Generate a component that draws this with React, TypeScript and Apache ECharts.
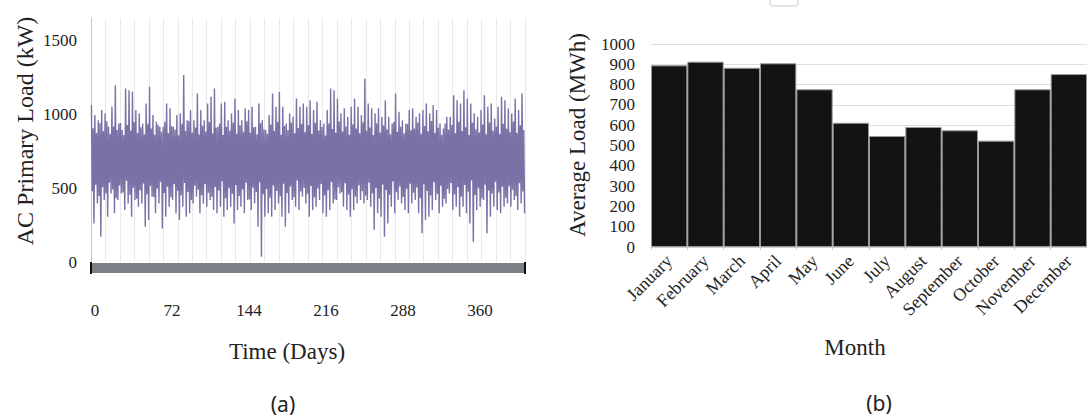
import React, { useEffect, useRef } from "react";
import * as echarts from "echarts";

// ---- Panel (a): AC primary load (kW) ----
// outer spike tips
const loadPeaks = [
  1061, 994, 959, 1027, 1005, 914, 1050, 1196, 937, 892, 1173, 1162, 1151, 1027, 1005, 937,
  1072, 1185, 994, 948, 914, 914, 1072, 1039, 914, 994, 1005, 1264, 959, 1027, 959, 1140,
  1027, 959, 1072, 1117, 1173, 914, 1072, 1083, 959, 1005, 1106, 1027, 959, 1039, 1027, 1050,
  914, 1072, 959, 892, 994, 1140, 1050, 1151, 1050, 937, 1005, 982, 1106, 1050, 1072,
  1050, 1094, 1027, 1083, 959, 937, 1027, 1173, 1162, 1106, 1005, 1039, 982, 1050, 1106, 1050,
  994, 1241, 1072, 1039, 1005, 1039, 982, 1094, 982, 937, 1140, 1016, 959, 937, 1027,
  1039, 982, 1005, 1027, 1072, 1005, 1061, 1027, 937, 903, 982, 982, 1128, 1094, 1072, 1162,
  1106, 1072, 1005, 982, 1027, 1128, 1050, 1072, 971, 1050, 1117, 1094, 1039, 1005, 1106, 1027, 1140,
];
const loadTroughs = [
  261, 396, 171, 419, 306, 464, 329, 419, 464, 351, 396, 306, 419, 374, 396, 239,
  284, 441, 329, 396, 227, 306, 374, 419, 329, 284, 374, 306, 329, 396, 441, 329,
  396, 374, 419, 351, 329, 374, 306, 351, 374, 261, 351, 374, 329, 419, 351, 396,
  239, 36, 306, 329, 306, 351, 396, 306, 239, 329, 419, 374, 351, 441, 396,
  306, 351, 374, 419, 329, 306, 351, 396, 419, 464, 374, 351, 306, 351, 396, 419,
  396, 419, 374, 216, 329, 306, 171, 261, 374, 329, 419, 396, 351, 329, 396,
  419, 329, 194, 284, 306, 351, 419, 329, 374, 396, 464, 351, 374, 306, 374, 329,
  261, 137, 351, 374, 419, 194, 306, 374, 351, 329, 374, 396, 374, 419, 351, 396, 329,
];
// inner (denser) strokes of the band
const loadInnerHigh = [
  905, 872, 938, 884, 951, 866, 917, 893, 940, 858, 926, 889, 947, 873, 912, 864,
  935, 902, 861, 928, 881, 949, 870, 918, 895, 857, 931, 886, 954, 876, 909, 862,
  921, 883, 946, 869, 908, 937, 859, 915, 890, 943, 867, 925, 880, 952, 874, 911,
  863, 939, 897, 868, 930, 885, 948, 860, 919, 892, 944, 871, 906, 934, 878,
  927, 865, 941, 889, 913, 856, 936, 899, 874, 950, 882, 916, 861, 932, 903, 870,
  945, 887, 910, 858, 939, 876, 923, 896, 864, 947, 881, 914, 869, 933, 891,
  902, 943, 867, 920, 884, 953, 873, 908, 861, 937, 895, 926, 870, 948, 886, 912,
  859, 941, 898, 875, 929, 863, 944, 888, 917, 866, 935, 901, 879, 950, 872, 924, 893,
];
const loadInnerLow = [
  478, 522, 446, 506, 463, 538, 491, 432, 517, 470, 549, 455, 502, 428, 486, 531,
  459, 512, 440, 497, 543, 466, 509, 437, 525, 482, 451, 534, 474, 420, 515, 488,
  452, 527, 469, 441, 508, 484, 546, 431, 499, 462, 521, 447, 490, 536, 425, 503,
  473, 540, 458, 494, 434, 518, 480, 445, 529, 467, 511, 438, 552, 476, 500,
  461, 514, 436, 497, 528, 450, 485, 541, 423, 506, 471, 533, 457, 492, 443, 519,
  479, 448, 537, 465, 501, 429, 524, 487, 454, 545, 472, 510, 439, 496, 530,
  468, 504, 433, 526, 481, 449, 539, 460, 516, 427, 493, 535, 456, 507, 442, 520,
  475, 551, 453, 498, 430, 523, 483, 463, 542, 470, 509, 435, 513, 489, 447, 532, 477,
];
const dayTickLabels = [0, 72, 144, 216, 288, 360];
const loadTickLabels = [0, 500, 1000, 1500];

// ---- Panel (b): monthly average load (MWh) ----
const months = [
  "January", "February", "March", "April", "May", "June",
  "July", "August", "September", "October", "November", "December",
];
const avgLoad = [895, 913, 883, 905, 777, 612, 547, 591, 575, 524, 777, 852];

const SERIF = "'Liberation Serif', 'Times New Roman', serif";
const SANS = "'Noto Sans', 'Open Sans', sans-serif";

export default function App() {
  const ref = useRef<HTMLDivElement>(null);
  useEffect(() => {
    if (!ref.current) return;
    const chart = echarts.init(ref.current, undefined, { renderer: "svg" });
    const N = loadPeaks.length;
    const step = 365 / N;
    const lineData: number[][] = [];
    for (let i = 0; i < N; i++) {
      lineData.push([(i + 0.125) * step, loadPeaks[i]]);
      lineData.push([(i + 0.375) * step, loadInnerLow[i]]);
      lineData.push([(i + 0.625) * step, loadInnerHigh[i]]);
      lineData.push([(i + 0.875) * step, loadTroughs[i]]);
    }
    const plain = (v: number) => String(v);
    chart.setOption({
      animation: false,
      backgroundColor: "#ffffff",
      grid: [
        { left: 91, top: 18, width: 434, bottom: 158, containLabel: false },
        { left: 651, top: 44, width: 439, bottom: 173, containLabel: false },
      ],
      xAxis: [
        {
          type: "value",
          gridIndex: 0,
          position: "bottom",
          min: 0,
          max: 365,
          interval: 365 / 30,
          axisLine: { show: false },
          axisTick: { show: false },
          axisLabel: { show: false },
          splitLine: { show: true, lineStyle: { color: "#e9e9e9", width: 1 } },
        },
        {
          type: "value",
          gridIndex: 0,
          position: "bottom",
          min: -3.74,
          max: 402.1,
          axisLine: { show: false },
          axisTick: { show: false },
          splitLine: { show: false },
          axisLabel: {
            show: true,
            customValues: dayTickLabels,
            formatter: plain,
            margin: 40,
            fontFamily: SERIF,
            fontSize: 17,
            color: "#222",
          },
        },
        {
          type: "category",
          gridIndex: 1,
          data: months,
          axisLine: { show: true, lineStyle: { color: "#cfcfcf" } },
          axisTick: { show: true, length: 3, lineStyle: { color: "#cfcfcf" } },
          axisLabel: {
            rotate: 45,
            margin: 11,
            interval: 0,
            fontFamily: SERIF,
            fontSize: 18,
            color: "#222",
          },
          splitLine: { show: false },
        },
      ],
      yAxis: [
        {
          type: "value",
          gridIndex: 0,
          min: 0,
          max: 1650,
          axisLine: { show: true, lineStyle: { color: "#d2c2bd", width: 1 } },
          axisTick: { show: false },
          splitLine: { show: false },
          axisLabel: {
            customValues: loadTickLabels,
            formatter: plain,
            margin: 14,
            fontFamily: SERIF,
            fontSize: 17,
            color: "#222",
          },
        },
        {
          type: "value",
          gridIndex: 1,
          min: 0,
          max: 1000,
          interval: 100,
          axisLine: { show: false },
          axisTick: { show: false },
          splitLine: { show: true, lineStyle: { color: "#e2dcdc", width: 1 } },
          axisLabel: {
            formatter: plain,
            margin: 16,
            fontFamily: SERIF,
            fontSize: 17,
            color: "#222",
          },
        },
      ],
      series: [
        {
          type: "line",
          xAxisIndex: 0,
          yAxisIndex: 0,
          data: lineData,
          symbol: "none",
          lineStyle: { color: "#7a72a6", width: 1.4 },
          z: 3,
        },
        {
          type: "bar",
          xAxisIndex: 2,
          yAxisIndex: 1,
          data: avgLoad,
          barWidth: "100%",
          itemStyle: { color: "#151212", borderColor: "#9a9a9a", borderWidth: 1 },
          z: 3,
        },
      ],
      graphic: [
        { type: "rect", shape: { x: 91, y: 263, width: 434, height: 10 }, style: { fill: "#7c7f86" }, z: 10 },
        { type: "rect", shape: { x: 90, y: 262, width: 2, height: 12 }, style: { fill: "#111" }, z: 11 },
        { type: "rect", shape: { x: 524, y: 262, width: 2, height: 12 }, style: { fill: "#111" }, z: 11 },
        {
          type: "rect",
          shape: { x: 770, y: -6, width: 28, height: 12, r: 3 },
          style: { fill: "#fff", stroke: "#e4e4e4", lineWidth: 2 },
        },
        {
          type: "text",
          x: 25,
          y: 131,
          rotation: Math.PI / 2,
          style: {
            text: "AC Primary Load (kW)",
            fontFamily: SERIF,
            fontSize: 24,
            fill: "#222",
            align: "center",
            verticalAlign: "middle",
          },
        },
        {
          type: "text",
          x: 287,
          y: 351,
          style: {
            text: "Time (Days)",
            fontFamily: SERIF,
            fontSize: 23,
            fill: "#222",
            align: "center",
            verticalAlign: "middle",
          },
        },
        {
          type: "text",
          x: 283,
          y: 404,
          style: {
            text: "(a)",
            fontFamily: SANS,
            fontSize: 21,
            fill: "#222",
            align: "center",
            verticalAlign: "middle",
          },
        },
        {
          type: "text",
          x: 577,
          y: 135,
          rotation: Math.PI / 2,
          style: {
            text: "Average Load (MWh)",
            fontFamily: SERIF,
            fontSize: 23,
            fill: "#222",
            align: "center",
            verticalAlign: "middle",
          },
        },
        {
          type: "text",
          x: 855,
          y: 347,
          style: {
            text: "Month",
            fontFamily: SERIF,
            fontSize: 23,
            fill: "#222",
            align: "center",
            verticalAlign: "middle",
          },
        },
        {
          type: "text",
          x: 879,
          y: 403,
          style: {
            text: "(b)",
            fontFamily: SANS,
            fontSize: 21,
            fill: "#222",
            align: "center",
            verticalAlign: "middle",
          },
        },
      ],
    });
    return () => chart.dispose();
  }, []);
  return (
    <div
      ref={ref}
      style={{ position: "fixed", left: 0, top: 0, width: 1087, height: 420, background: "#fff" }}
    />
  );
}
